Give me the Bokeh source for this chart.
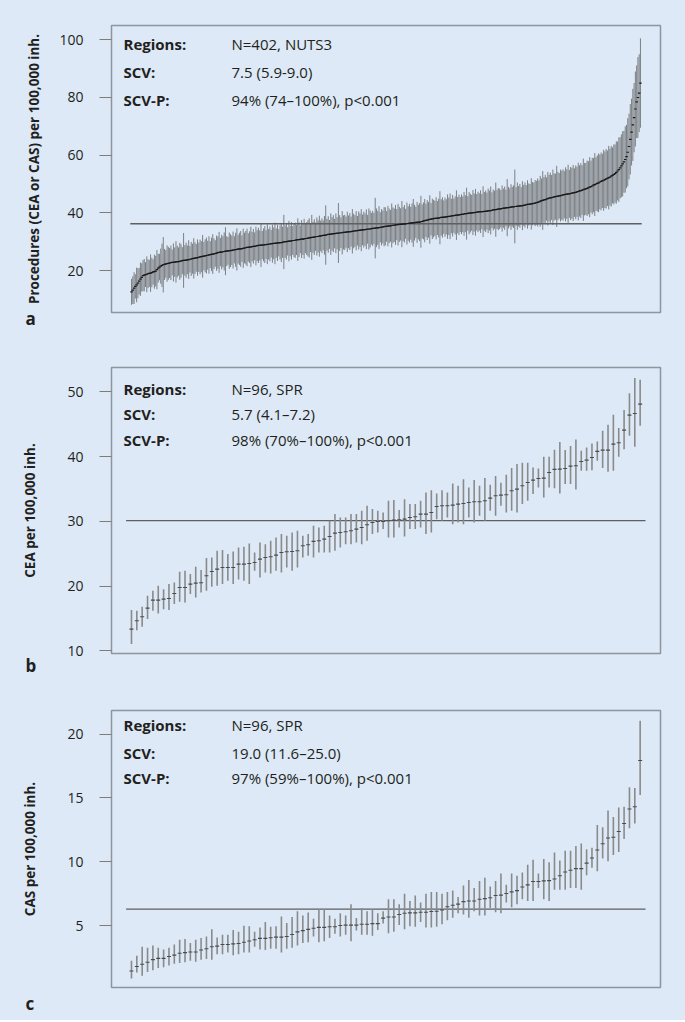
from bokeh.plotting import figure
from bokeh.models import Range1d, Label, FixedTicker, Title
from bokeh.layouts import column
from bokeh.embed import file_html
from bokeh.resources import INLINE

# ---------------- data ----------------
# Panel a: procedures (CEA or CAS) per 100,000 inh., 402 NUTS3 regions (sorted)
proc_mid = [
    12.6, 13.2, 13.9, 14.5, 15.0, 15.6, 16.3, 17.0, 17.6, 18.2,
    18.4, 18.6, 18.7, 18.9, 19.0, 19.1, 19.3, 19.5, 19.6, 19.8,
    20.3, 20.8, 21.2, 21.5, 21.8, 22.0, 22.1, 22.3, 22.4, 22.5,
    22.6, 22.7, 22.8, 22.8, 22.9, 23.0, 23.1, 23.1, 23.2, 23.3,
    23.4, 23.5, 23.5, 23.6, 23.7, 23.8, 23.9, 24.0, 24.1, 24.2,
    24.3, 24.4, 24.5, 24.6, 24.7, 24.8, 24.9, 25.0, 25.1, 25.2,
    25.3, 25.4, 25.5, 25.6, 25.7, 25.8, 25.9, 26.0, 26.2, 26.3,
    26.4, 26.4, 26.5, 26.6, 26.7, 26.7, 26.8, 26.9, 26.9, 27.0,
    27.1, 27.2, 27.2, 27.3, 27.4, 27.5, 27.5, 27.6, 27.7, 27.8,
    27.9, 28.0, 28.0, 28.1, 28.2, 28.3, 28.4, 28.4, 28.5, 28.6,
    28.7, 28.7, 28.8, 28.8, 28.9, 29.0, 29.0, 29.1, 29.1, 29.2,
    29.3, 29.3, 29.4, 29.4, 29.5, 29.6, 29.6, 29.7, 29.7, 29.8,
    29.9, 30.0, 30.0, 30.1, 30.2, 30.2, 30.3, 30.4, 30.4, 30.5,
    30.6, 30.7, 30.7, 30.8, 30.9, 30.9, 31.0, 31.1, 31.1, 31.2,
    31.3, 31.4, 31.5, 31.5, 31.6, 31.7, 31.8, 31.8, 31.9, 32.0,
    32.1, 32.2, 32.2, 32.3, 32.4, 32.5, 32.5, 32.6, 32.7, 32.8,
    32.8, 32.9, 32.9, 33.0, 33.0, 33.1, 33.1, 33.2, 33.2, 33.3,
    33.4, 33.4, 33.5, 33.5, 33.6, 33.7, 33.7, 33.8, 33.8, 33.9,
    34.0, 34.0, 34.1, 34.2, 34.2, 34.3, 34.3, 34.4, 34.4, 34.5,
    34.6, 34.6, 34.7, 34.8, 34.8, 34.9, 35.0, 35.0, 35.1, 35.2,
    35.3, 35.3, 35.4, 35.5, 35.5, 35.6, 35.7, 35.7, 35.8, 35.9,
    35.9, 36.0, 36.0, 36.1, 36.1, 36.2, 36.2, 36.3, 36.3, 36.4,
    36.4, 36.5, 36.5, 36.6, 36.7, 36.7, 36.8, 36.8, 36.9, 37.0,
    37.2, 37.3, 37.4, 37.5, 37.6, 37.7, 37.8, 37.9, 38.0, 38.1,
    38.1, 38.2, 38.2, 38.3, 38.4, 38.4, 38.5, 38.5, 38.6, 38.7,
    38.8, 38.8, 38.9, 39.0, 39.0, 39.1, 39.2, 39.2, 39.3, 39.4,
    39.5, 39.5, 39.6, 39.7, 39.7, 39.8, 39.9, 39.9, 40.0, 40.1,
    40.1, 40.2, 40.2, 40.3, 40.3, 40.4, 40.4, 40.4, 40.5, 40.5,
    40.6, 40.7, 40.8, 40.8, 40.9, 41.0, 41.1, 41.1, 41.2, 41.3,
    41.4, 41.4, 41.5, 41.6, 41.6, 41.7, 41.8, 41.8, 41.9, 42.0,
    42.1, 42.1, 42.2, 42.2, 42.3, 42.3, 42.4, 42.4, 42.5, 42.6,
    42.7, 42.8, 42.9, 42.9, 43.0, 43.1, 43.2, 43.3, 43.4, 43.5,
    43.6, 43.8, 44.0, 44.2, 44.3, 44.5, 44.6, 44.8, 44.9, 45.1,
    45.2, 45.3, 45.4, 45.5, 45.6, 45.7, 45.8, 45.9, 46.0, 46.1,
    46.2, 46.3, 46.4, 46.5, 46.6, 46.6, 46.7, 46.8, 46.9, 47.0,
    47.1, 47.3, 47.4, 47.6, 47.7, 47.9, 48.0, 48.2, 48.3, 48.5,
    48.7, 48.9, 49.1, 49.3, 49.6, 49.8, 50.0, 50.2, 50.4, 50.7,
    50.9, 51.1, 51.3, 51.5, 51.8, 52.0, 52.2, 52.4, 52.7, 53.0,
    53.3, 53.6, 54.0, 54.5, 55.0, 55.6, 56.3, 57.0, 57.7, 58.5,
    59.5, 61.0, 63.0, 65.5, 68.0, 70.5, 73.0, 76.0, 78.5, 80.0,
    81.5, 85.0,
]
proc_err = [
    4.5, 4.8, 5.5, 4.2, 6.0, 5.2, 4.6, 5.8, 4.9, 5.4,
    5.6, 4.3, 6.2, 5.0, 4.7, 6.5, 5.1, 4.4, 5.9, 5.3,
    6.8, 5.0, 4.6, 6.1, 7.5, 9.6, 5.4, 4.8, 6.3, 5.7,
    5.2, 6.0, 4.5, 6.6, 5.1, 7.2, 5.5, 4.9, 6.4, 5.8,
    4.7, 9.5, 5.3, 6.1, 5.0, 6.7, 4.6, 5.9, 5.2, 7.0,
    5.5, 4.8, 6.3, 5.1, 6.0, 5.4, 7.4, 4.9, 5.7, 6.2,
    5.0, 6.5, 4.7, 5.8, 6.9, 5.3, 4.6, 6.1, 5.6, 7.1,
    4.9, 6.0, 5.4, 6.6, 8.3, 5.2, 4.8, 6.3, 5.7, 5.1,
    6.4, 4.7, 5.9, 7.3, 5.0, 5.6, 6.2, 4.6, 6.8, 5.3,
    5.8, 6.5, 4.9, 5.5, 7.0, 5.1, 6.0, 4.8, 6.7, 5.4,
    6.1, 5.2, 7.6, 4.9, 5.7, 6.4, 5.0, 6.9, 5.3, 6.0,
    4.8, 6.6, 5.5, 7.2, 5.1, 6.3, 4.7, 5.9, 6.8, 5.4,
    9.4, 5.6, 6.2, 4.9, 7.0, 5.3, 6.5, 5.0, 5.8, 6.1,
    5.2, 7.4, 6.0, 4.8, 6.6, 5.5, 6.9, 5.1, 5.7, 6.3,
    6.8, 5.0, 7.8, 5.4, 6.2, 4.9, 6.6, 5.6, 7.1, 5.3,
    6.0, 5.2, 6.7, 10.3, 5.5, 6.3, 5.0, 7.2, 5.8, 6.4,
    5.1, 6.9, 5.6, 10.4, 6.2, 5.3, 7.5, 5.9, 6.1, 5.4,
    7.0, 5.7, 6.4, 5.2, 7.7, 6.0, 5.5, 6.8, 5.1, 6.6,
    5.8, 7.3, 5.3, 6.2, 5.6, 6.9, 5.0, 7.1, 6.4, 5.5,
    6.1, 5.4, 10.5, 6.7, 5.9, 7.4, 5.2, 6.3, 5.7, 6.8,
    6.6, 5.3, 7.0, 6.0, 5.5, 7.6, 6.2, 5.8, 6.9, 5.4,
    7.2, 6.1, 5.6, 8.0, 5.9, 6.5, 5.2, 7.3, 6.0, 6.7,
    5.7, 6.8, 8.3, 6.2, 5.4, 7.1, 6.0, 6.6, 9.0, 5.9,
    6.4, 7.5, 5.8, 6.9, 6.2, 8.4, 5.6, 7.0, 6.5, 6.1,
    7.3, 5.9, 6.7, 9.2, 6.3, 7.0, 5.8, 6.8, 6.1, 7.7,
    6.5, 7.9, 6.0, 7.2, 5.9, 6.6, 8.6, 6.3, 7.0, 6.1,
    6.9, 6.2, 7.6, 6.4, 9.0, 6.0, 7.3, 6.7, 6.2, 7.8,
    6.6, 8.1, 6.3, 7.0, 6.5, 7.4, 6.1, 8.8, 6.7, 7.2,
    6.4, 7.7, 6.9, 8.3, 6.2, 7.1, 6.6, 9.4, 6.8, 7.3,
    7.0, 6.5, 8.0, 6.8, 7.5, 6.3, 9.9, 7.2, 6.6, 7.9,
    6.9, 7.4, 12.8, 6.7, 8.2, 7.0, 7.6, 6.5, 8.5, 7.1,
    7.8, 6.8, 8.4, 7.3, 7.0, 8.9, 7.5, 7.2, 8.0, 7.6,
    8.3, 7.4, 8.8, 7.7, 10.2, 7.9, 8.6, 7.5, 9.3, 8.1,
    8.7, 7.8, 9.6, 8.2, 8.0, 10.6, 8.4, 7.9, 9.0, 8.5,
    8.9, 8.2, 9.4, 8.6, 10.1, 8.3, 9.2, 8.8, 9.7, 8.4,
    9.3, 8.7, 10.0, 8.9, 9.5, 8.6, 10.8, 9.1, 9.0, 9.6,
    9.2, 10.4, 9.0, 9.8, 9.4, 10.9, 9.3, 9.7, 10.2, 9.5,
    10.0, 9.4, 10.6, 9.8, 10.3, 9.6, 11.0, 9.9, 10.5, 9.7,
    10.4, 10.1, 10.8, 10.2, 11.2, 10.6, 10.9, 11.3, 10.7, 11.5,
    11.0, 11.8, 11.4, 12.2, 11.6, 12.5, 12.0, 13.0, 12.6, 14.0,
    13.5, 15.5,
]
proc_mean = 36.2

# Panel b: CEA per 100,000 inh., 96 spatial planning regions
cea_mid = [
    13.35, 14.63, 15.25, 16.59, 17.83, 17.83, 17.98, 18.08, 18.85, 19.78,
    19.78, 20.30, 20.45, 20.50, 21.58, 22.25, 22.61, 22.87, 22.87, 22.87,
    23.39, 23.39, 23.49, 23.64, 24.16, 24.41, 24.52, 24.77, 25.19, 25.29,
    25.34, 25.44, 26.22, 26.37, 26.89, 26.99, 27.25, 27.66, 28.17, 28.27,
    28.38, 28.53, 28.79, 29.05, 29.46, 29.82, 29.97, 29.97, 30.08, 30.18,
    30.23, 30.33, 30.59, 30.69, 31.11, 31.11, 31.36, 32.29, 32.39, 32.39,
    32.50, 32.65, 32.75, 32.91, 33.01, 33.01, 33.17, 33.58, 33.94, 34.04,
    34.09, 34.71, 34.97, 35.48, 36.00, 36.36, 36.61, 36.67, 37.54, 38.01,
    38.06, 38.16, 38.52, 38.57, 39.24, 39.45, 39.86, 40.79, 40.99, 40.99,
    41.92, 42.12, 44.08, 46.40, 46.65, 48.10,
]
cea_lo = [
    11.03, 13.19, 13.71, 14.89, 16.18, 15.77, 16.43, 16.28, 17.21, 17.57,
    17.46, 18.75, 18.24, 19.01, 19.27, 19.88, 20.04, 20.30, 20.81, 20.30,
    21.02, 20.81, 20.30, 22.36, 21.33, 22.10, 21.94, 22.36, 22.10, 22.87,
    22.36, 22.87, 24.41, 24.67, 24.41, 25.19, 25.19, 25.19, 25.44, 25.96,
    26.47, 26.47, 26.73, 26.47, 26.99, 28.02, 28.28, 28.79, 27.50, 27.50,
    29.05, 27.66, 28.79, 28.79, 29.05, 28.02, 28.28, 30.33, 30.08, 30.59,
    29.56, 29.82, 29.56, 30.59, 29.82, 30.85, 30.08, 31.62, 30.85, 32.39,
    31.36, 31.62, 31.36, 32.65, 33.17, 34.20, 35.23, 33.68, 35.23, 35.12,
    34.30, 35.74, 35.74, 34.92, 37.80, 37.80, 37.90, 39.34, 38.21, 37.64,
    37.80, 39.96, 41.14, 43.20, 41.50, 44.75,
]
cea_hi = [
    16.28, 16.18, 16.80, 18.49, 19.27, 20.04, 19.52, 20.30, 20.55, 22.20,
    22.36, 21.84, 22.97, 22.46, 24.31, 24.41, 25.44, 25.55, 24.93, 25.34,
    25.96, 26.06, 26.58, 25.19, 26.73, 26.47, 26.99, 27.50, 28.02, 27.76,
    28.28, 28.53, 27.76, 28.02, 29.31, 29.05, 29.31, 30.08, 31.11, 30.59,
    30.59, 31.11, 31.11, 31.62, 32.39, 31.88, 31.62, 31.36, 33.17, 33.27,
    31.73, 33.42, 32.65, 32.65, 33.17, 34.45, 34.81, 34.30, 34.81, 34.45,
    35.84, 35.48, 36.51, 35.23, 36.36, 35.48, 36.67, 35.64, 36.98, 35.94,
    37.18, 38.21, 38.83, 39.04, 39.04, 38.31, 38.16, 39.96, 39.96, 41.04,
    42.23, 40.99, 41.61, 42.64, 40.89, 41.40, 42.02, 42.33, 43.98, 44.90,
    46.45, 44.39, 47.17, 49.79, 52.11, 51.85,
]
cea_mean = 30.1

# Panel c: CAS per 100,000 inh., 96 spatial planning regions
cas_mid = [
    1.46, 1.81, 1.99, 2.14, 2.35, 2.45, 2.45, 2.60, 2.70, 2.85,
    2.90, 2.95, 2.95, 3.10, 3.20, 3.36, 3.41, 3.53, 3.53, 3.58,
    3.61, 3.71, 3.81, 3.91, 4.01, 4.01, 4.06, 4.11, 4.11, 4.16,
    4.32, 4.52, 4.62, 4.72, 4.80, 4.87, 4.87, 4.92, 4.92, 5.02,
    5.05, 5.05, 5.05, 5.12, 5.12, 5.17, 5.17, 5.60, 5.68, 5.68,
    5.88, 5.98, 6.01, 6.01, 6.06, 6.06, 6.11, 6.13, 6.23, 6.49,
    6.61, 6.69, 6.89, 6.94, 6.94, 7.07, 7.12, 7.19, 7.37, 7.40,
    7.52, 7.65, 7.75, 8.03, 8.20, 8.46, 8.46, 8.51, 8.53, 8.66,
    8.91, 9.21, 9.34, 9.47, 9.47, 9.90, 10.30, 10.93, 11.41, 11.87,
    11.92, 12.37, 13.00, 14.14, 14.31, 17.93,
]
cas_lo = [
    0.88, 1.34, 1.08, 1.39, 1.51, 1.69, 1.76, 1.89, 2.02, 2.09,
    2.14, 2.27, 2.19, 2.35, 2.40, 2.35, 2.78, 2.78, 2.90, 2.70,
    2.78, 2.90, 2.90, 3.36, 3.15, 3.10, 3.20, 3.20, 2.90, 3.20,
    3.28, 3.46, 3.66, 3.71, 4.16, 3.71, 3.79, 4.04, 4.37, 4.16,
    4.29, 3.79, 4.62, 4.29, 4.29, 4.21, 4.67, 5.17, 4.42, 4.54,
    5.05, 4.72, 4.97, 4.92, 5.30, 4.87, 4.87, 4.92, 5.12, 5.43,
    5.63, 5.98, 5.88, 5.63, 6.13, 5.81, 5.81, 6.39, 6.06, 5.98,
    6.81, 6.44, 6.69, 7.07, 6.94, 6.94, 7.95, 7.07, 6.94, 7.82,
    7.82, 7.82, 7.95, 7.95, 7.82, 8.96, 9.54, 9.26, 10.27, 10.05,
    10.53, 10.78, 11.79, 12.62, 13.00, 15.22,
]
cas_hi = [
    2.27, 2.65, 3.36, 3.28, 3.46, 3.28, 3.15, 3.28, 3.53, 3.91,
    3.96, 3.66, 3.91, 4.04, 4.16, 4.72, 4.09, 4.29, 4.29, 4.67,
    4.54, 5.00, 4.97, 4.54, 4.87, 5.30, 4.92, 4.97, 5.73, 5.22,
    5.68, 6.13, 5.81, 6.03, 5.55, 6.31, 6.31, 5.81, 5.55, 5.98,
    5.81, 6.69, 5.60, 6.39, 6.13, 6.31, 5.98, 6.13, 7.07, 7.07,
    6.69, 7.50, 6.94, 7.37, 6.81, 7.50, 7.65, 7.65, 7.50, 7.65,
    7.75, 7.25, 8.15, 8.58, 7.95, 8.51, 8.76, 8.08, 8.51, 9.09,
    8.20, 9.09, 8.91, 9.16, 9.77, 10.17, 9.09, 10.22, 9.97, 10.73,
    10.10, 10.86, 10.86, 11.23, 11.44, 10.98, 11.11, 12.88, 12.70, 14.01,
    13.51, 14.26, 14.31, 15.83, 15.78, 21.03,
]
cas_mean = 6.3

ticks_a = [20, 40, 60, 80, 100]
ticks_b = [10, 20, 30, 40, 50]
ticks_c = [5, 10, 15, 20]

info_a = [("Regions:", "N=402, NUTS3"), ("SCV:", "7.5 (5.9-9.0)"),
          ("SCV-P:", "94% (74\u2013100%), p<0.001")]
info_b = [("Regions:", "N=96, SPR"), ("SCV:", "5.7 (4.1\u20137.2)"),
          ("SCV-P:", "98% (70%\u2013100%), p<0.001")]
info_c = [("Regions:", "N=96, SPR"), ("SCV:", "19.0 (11.6\u201325.0)"),
          ("SCV-P:", "97% (59%\u2013100%), p<0.001")]

# ---------------- styling ----------------
BG = "#dde9f6"
FONT = "Open Sans"
TXT = "#231f20"
W = 685


def panel(height, top, bottom, xr, yr, ticks, ylabel, lab_standoff, letter, letter_standoff):
    p = figure(width=W, height=height, output_backend="svg",
               toolbar_location=None, x_axis_location=None,
               x_range=Range1d(*xr), y_range=Range1d(*yr),
               min_border_left=111, min_border_right=25,
               min_border_top=top, min_border_bottom=bottom)
    p.background_fill_color = BG
    p.border_fill_color = BG
    p.outline_line_color = "#8f959c"
    p.outline_line_width = 1.5
    p.xgrid.visible = False
    p.ygrid.visible = False
    ax = p.yaxis[0]
    ax.ticker = FixedTicker(ticks=ticks)
    ax.axis_line_color = None
    ax.major_tick_out = 12
    ax.major_tick_in = 0
    ax.minor_tick_out = 0
    ax.minor_tick_in = 0
    ax.major_tick_line_color = "#7d7d7d"
    ax.major_tick_line_width = 1.2
    ax.major_label_text_font = FONT
    ax.major_label_text_font_size = "14px"
    ax.major_label_text_color = TXT
    ax.major_label_standoff = 16
    ax.axis_label = ylabel
    ax.axis_label_text_font = FONT
    ax.axis_label_text_font_size = "13.5px"
    ax.axis_label_text_font_style = "bold"
    ax.axis_label_text_color = TXT
    ax.axis_label_standoff = lab_standoff
    t = Title(text=letter, align="left", offset=-86, vertical_align="top",
              standoff=letter_standoff, text_font=FONT, text_font_size="17px",
              text_font_style="bold", text_color=TXT)
    p.add_layout(t, "below")
    return p, height - top - bottom


def add_info(p, frame_h, info, info_y):
    for (k, v), dy in zip(info, info_y):
        p.add_layout(Label(x=12, y=frame_h - dy, x_units="screen", y_units="screen",
                           text=k, text_font=FONT, text_font_size="15px",
                           text_font_style="bold", text_color=TXT,
                           text_baseline="middle"))
        p.add_layout(Label(x=120, y=frame_h - dy, x_units="screen", y_units="screen",
                           text=v, text_font=FONT, text_font_size="15px",
                           text_color=TXT, text_baseline="middle"))


# Panel a
idx_a = list(range(1, len(proc_mid) + 1))
lo_a = [m - e for m, e in zip(proc_mid, proc_err)]
hi_a = [m + e for m, e in zip(proc_mid, proc_err)]
pa, fa = panel(340, 25, 28, (-14.8, 417.8), (5.44, 104.96), ticks_a,
               "Procedures (CEA or CAS) per 100,000 inh.", 13, "a", -12)
pa.segment(x0=idx_a, y0=lo_a, x1=idx_a, y1=hi_a, line_color="#5c5c5c",
           line_width=1.0, line_alpha=0.75)
pa.segment(x0=[0], y0=[proc_mean], x1=[len(proc_mid) + 1], y1=[proc_mean],
           line_color="#5f5f5f", line_width=1.4)
pa.scatter(idx_a, proc_mid, marker="dash", size=2.5, line_color="#1a1a1a", line_width=1.2)
add_info(pa, fa, info_a, [18.3, 46, 74])

# Panel b
idx_b = list(range(1, len(cea_mid) + 1))
pb, fb = panel(341, 27, 28, (-2.73, 99.8), (9.58, 53.75), ticks_b,
               "CEA per 100,000 inh.", 25, "b", 0)
pb.segment(x0=[0], y0=[cea_mean], x1=[len(cea_mid) + 1], y1=[cea_mean],
           line_color="#5f5f5f", line_width=1.4)
pb.segment(x0=idx_b, y0=cea_lo, x1=idx_b, y1=cea_hi, line_color="#8a8a8a",
           line_width=1.6)
pb.scatter(idx_b, cea_mid, marker="dash", size=4, line_color="#4a4a4a", line_width=1.1)
add_info(pb, fb, info_b, [21, 46.6, 72.3])

# Panel c
idx_c = list(range(1, len(cas_mid) + 1))
pc, fc = panel(339, 29, 24, (-2.73, 99.8), (0.17, 21.84), ticks_c,
               "CAS per 100,000 inh.", 25, "c", 8)
pc.segment(x0=[0], y0=[cas_mean], x1=[len(cas_mid) + 1], y1=[cas_mean],
           line_color="#5f5f5f", line_width=1.4)
pc.segment(x0=idx_c, y0=cas_lo, x1=idx_c, y1=cas_hi, line_color="#8a8a8a",
           line_width=1.6)
pc.scatter(idx_c, cas_mid, marker="dash", size=4, line_color="#4a4a4a", line_width=1.1)
add_info(pc, fc, info_c, [23.3, 51, 76.7])

layout = column(pa, pb, pc, spacing=0, styles={"background-color": BG})
open("out.html", "w").write(file_html(layout, INLINE))
